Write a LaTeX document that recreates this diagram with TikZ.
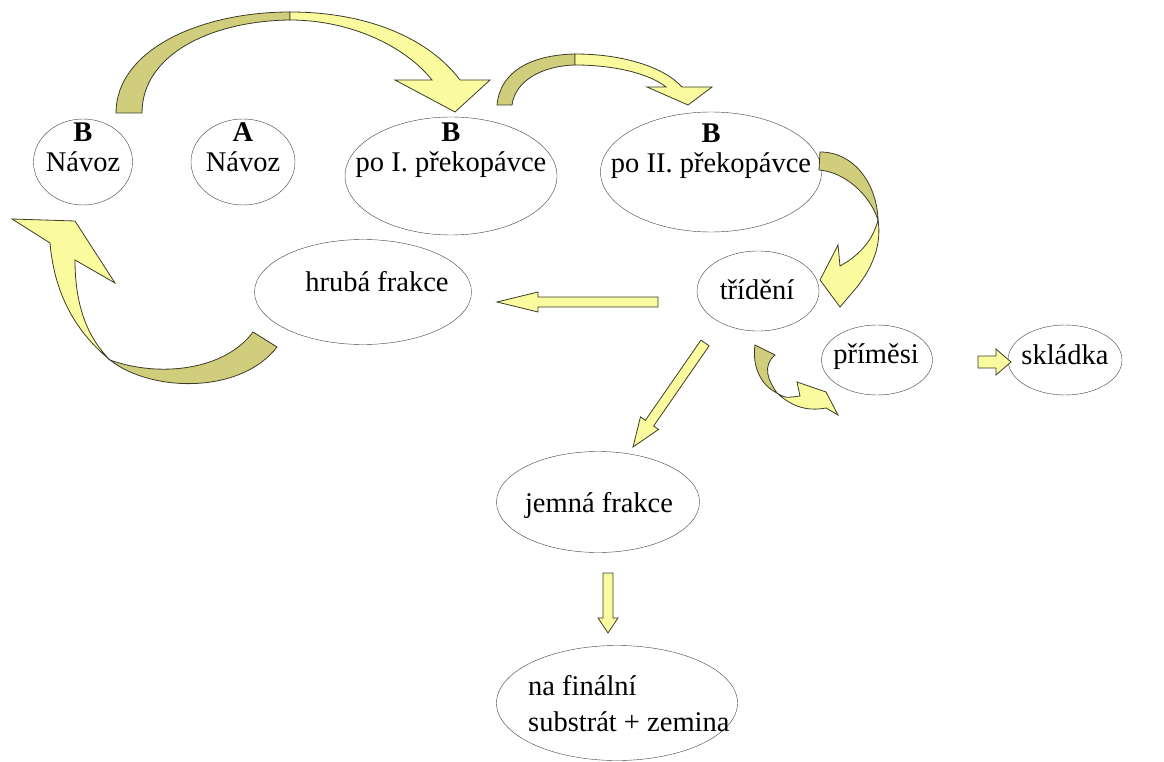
\documentclass[tikz,border=0pt]{standalone}
\usepackage{fontspec}
\setmainfont{Liberation Serif}
\usetikzlibrary{calc}
\usetikzlibrary{shapes}

\definecolor{lightyellow}{RGB}{250,250,158}
\definecolor{darkyellow}{RGB}{208,206,124}
\definecolor{arrowline}{RGB}{60,60,40}

% straight block arrow: from, to, head length, half shaft, half head
\newcommand{\blockarrow}[5]{%
    \coordinate (hb) at ($(#2)!#3pt!(#1)$);
    \filldraw[flatarrow] ($(#1)!#4pt!90:(#2)$) -- ($(hb)!#4pt!90:(#2)$) -- ($(hb)!#5pt!90:(#2)$) -- (#2)
        -- ($(hb)!#5pt!-90:(#2)$) -- ($(hb)!#4pt!-90:(#2)$) -- ($(#1)!#4pt!-90:(#2)$) -- cycle;
}

\begin{document}
\begin{tikzpicture}
    [x=1pt, y=-1pt,
     oval/.style={ellipse, draw=black!75, fill=white, inner sep=0pt},
     lbl/.style={align=center, inner sep=0pt, font=\fontsize{28.5}{30}\selectfont},
     flatarrow/.style={fill=lightyellow, draw=arrowline, line width=0.8pt},
     lightband/.style={fill=lightyellow, draw=arrowline, line width=0.8pt},
     darkband/.style={fill=darkyellow, draw=arrowline, line width=0.8pt}]
    \useasboundingbox (0,0) rectangle (1164,762);
    \foreach \n/\x/\y/\w/\h in {bnavoz/83/162/99/86, anavoz/243/162/104/86, bpo1/451/176/212/118, bpo2/711/172/221/120, hruba/363/292/217/105, trideni/758/291/122/80, primesi/877/360/111/70, skladka/1065/360/114/70, jemna/598/502/203/101, finalni/617/703/241/115}{
        \node[oval, minimum width=\w, minimum height=\h] (\n) at (\x,\y) {};
    }
    \node[lbl] (bnavoz-t) at (83,147) {\textbf{B}\\Návoz};
    \node[lbl] (anavoz-t) at (243,147) {\textbf{A}\\Návoz};
    \node[lbl] (bpo1-t) at (451,150) {\textbf{B}\\po I. překopávce};
    \node[lbl] (bpo2-t) at (711,151) {\textbf{B}\\po II. překopávce};
    \node[lbl] (hruba-t) at (377,282) {hrubá frakce};
    \node[lbl] (trideni-t) at (757,290) {třídění};
    \node[lbl] (primesi-t) at (876,357) {příměsi};
    \node[lbl] (skladka-t) at (1065,355) {skládka};
    \node[lbl] (jemna-t) at (599,505) {jemná frakce};
    \node[lbl, align=left, anchor=west] (finalni-t) at (528,704) {na finální\\[6pt]substrát + zemina};

    % curved arrows
    \filldraw[darkband] (116,113) .. controls (116,50) and (200,12) .. (290,12) -- (290,20) .. controls (210,21) and (142,55) .. (142,113) -- cycle;
    \filldraw[lightband] (290,12) .. controls (370,12) and (430,40) .. (460,80) -- (490,80) -- (455,112) -- (395,80) -- (432,80) .. controls (405,46) and (350,20) .. (290,20) -- cycle;
    \filldraw[darkband] (497,105) .. controls (500,72) and (530,55) .. (575,54) -- (575,65) .. controls (540,66) and (515,82) .. (512,105) -- cycle;
    \filldraw[lightband] (575,54) .. controls (625,54) and (665,68) .. (682,87) -- (712,87) -- (688,105) -- (647,87) -- (666,87) .. controls (650,74) and (615,65) .. (575,65) -- cycle;
    \filldraw[darkband] (820,152) .. controls (855,152) and (877,185) .. (878,220) .. controls (870,195) and (845,172) .. (819,170) -- cycle;
    \filldraw[lightband] (878,220) .. controls (882,245) and (872,268) .. (857,287) -- (840,307) -- (820,280) -- (838,245) -- (840,266) .. controls (860,255) and (873,240) .. (878,220) -- cycle;
    \filldraw[lightband] (12,219) -- (75,221) -- (115,283) -- (75,260) .. controls (75,310) and (90,340) .. (110,360) .. controls (80,335) and (55,300) .. (50,243) -- cycle;
    \filldraw[darkband] (110,360) .. controls (150,392) and (240,395) .. (277,347) -- (253,332) .. controls (225,370) and (160,378) .. (110,360) -- cycle;
    \filldraw[darkband] (755,345) .. controls (752,365) and (760,385) .. (777,393) .. controls (768,380) and (762,366) .. (775,355) -- cycle;
    \filldraw[lightband] (777,393) .. controls (785,398) .. (800,396) -- (797,382) -- (826,392) -- (838,415) -- (826,408) .. controls (805,412) and (790,405) .. (777,393) -- cycle;

    % straight arrows
    \coordinate (h1) at (658,302);
    \coordinate (h2) at (497,302);
    \blockarrow{h1}{h2}{41}{5}{10}
    \coordinate (j1) at (705,343);
    \coordinate (j2) at (633,447);
    \blockarrow{j1}{j2}{29}{5}{11}
    \coordinate (s1) at (978,362);
    \coordinate (s2) at (1011,362);
    \blockarrow{s1}{s2}{15}{6}{13}
    \coordinate (f1) at (608,573);
    \coordinate (f2) at (608,633);
    \blockarrow{f1}{f2}{15}{5}{10}
\end{tikzpicture}
\end{document}
